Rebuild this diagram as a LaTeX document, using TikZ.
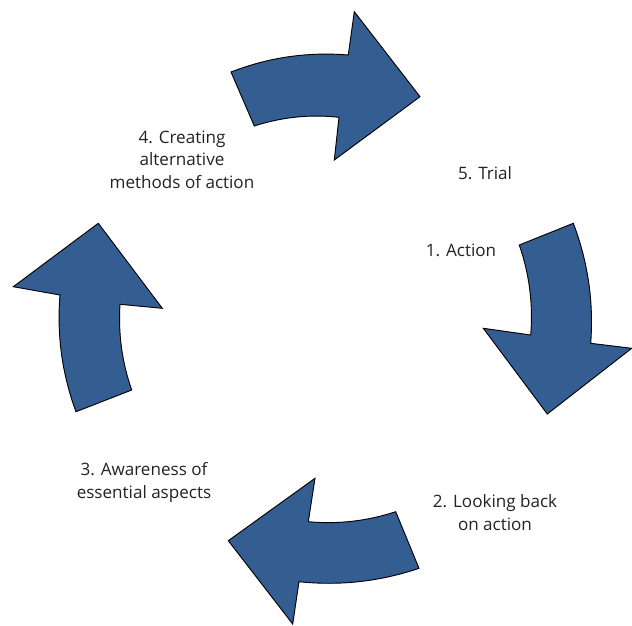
\documentclass[tikz,border=0pt]{standalone}
\usepackage{fontspec}
\setmainfont{Open Sans}
\definecolor{arrowblue}{RGB}{52,94,145}
\definecolor{txt}{RGB}{34,34,34}
\begin{document}
\begin{tikzpicture}[x=0.75pt,y=-0.75pt,
  bigarrow/.style={fill=arrowblue,draw=black,line width=0.7pt,line join=miter},
  lbl/.style={align=center,inner sep=0pt,text=txt,font=\fontsize{12.8pt}{16.8pt}\selectfont}]
\useasboundingbox (0,0) rectangle (632,625);
% top arrow (4 -> 5)
\draw[bigarrow] (231,72) .. controls (268.8,57.3) and (307.9,51.7) .. (348.3,55) -- (354.3,11.7) -- (420,96.7)
  -- (334.3,160) -- (339,117.3) .. controls (310.2,114.1) and (282,117) .. (254.3,126) -- cycle;
% right arrow (1)
\draw[bigarrow] (519.3,245) -- (573.3,223.3) .. controls (588,262) and (593.8,302) .. (590.7,343.3)
  -- (631.7,348.3) -- (547.3,414) -- (483.3,328.3) -- (530.7,335)
  .. controls (533.2,304.2) and (529.4,274.2) .. (519.3,245) -- cycle;
% bottom arrow (2 -> 3)
\draw[bigarrow] (395.7,511.7) -- (419,568.3) .. controls (380,581.5) and (340,586) .. (299,581.7)
  -- (292.7,624) -- (228.3,540.7) -- (315,478.3) -- (308.3,521.7)
  .. controls (338.1,524.4) and (367.2,521.1) .. (395.7,511.7) -- cycle;
% left arrow (3 -> 4)
\draw[bigarrow] (76,411.7) -- (131.7,390) .. controls (122,362.3) and (118.1,333.7) .. (120,304.3)
  -- (162.3,308.3) -- (98.3,223.3) -- (13.3,286.7) -- (60,295)
  .. controls (56.7,335.1) and (62.1,374) .. (76,411.7) -- cycle;
% labels
\node[lbl] (t4) at (182,159.5) {4. Creating\\alternative\\methods of action};
\node[lbl] (t5) at (485,173) {5. Trial};
\node[lbl] (t1) at (461,250) {1. Action};
\node[lbl] (t3) at (144,482.5) {3. Awareness of\\essential aspects};
\node[lbl] (t2) at (495,512.5) {2. Looking back\\on action};
\end{tikzpicture}
\end{document}
